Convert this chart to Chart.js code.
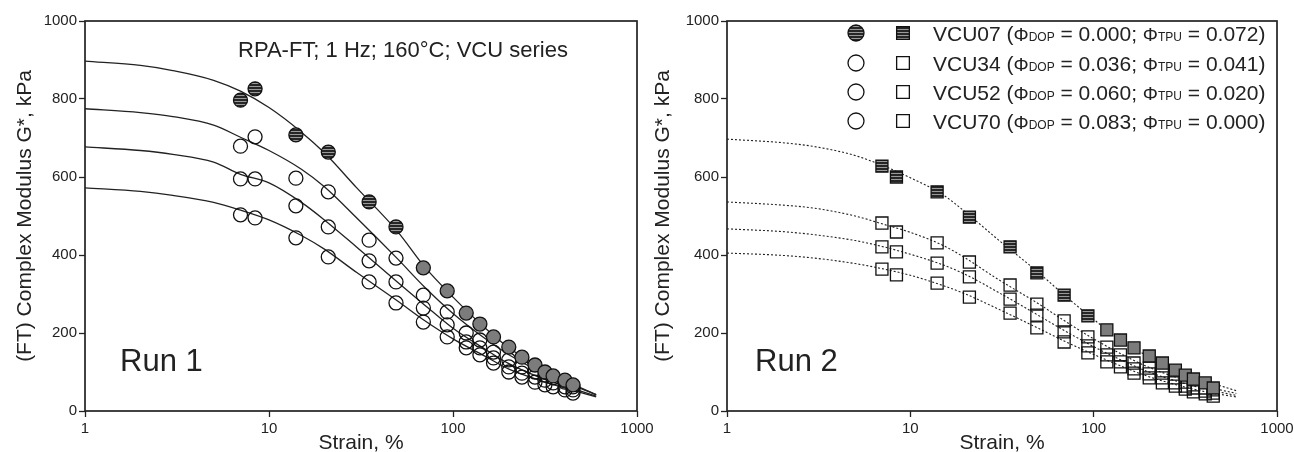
<!DOCTYPE html>
<html lang="en">

<head>
    <meta charset="UTF-8">
    <title>RPA-FT strain sweep, VCU series</title>
    <script src="https://cdn.jsdelivr.net/npm/chart.js"></script>
    <style>
        body { margin: 0; background: #fff; }
        .panel { position: absolute; top: 0; }
    </style>
</head>

<body>
    <div class="panel" style="left:0px"><canvas id="run1Chart" width="660" height="452"></canvas></div>
    <div class="panel" style="left:640px"><canvas id="run2Chart" width="654" height="452"></canvas></div>

    <script>
        // strain amplitudes of the sweep, %
        const strain = [7.0, 8.4, 14, 21, 35, 49, 69, 93, 118, 140, 166, 201, 237, 279, 316, 350, 406, 449];

        // Run 1, measured G*, kPa
        const run1VCU07 = [797, 826, 708, 664, 536, 472, 367, 308, 251, 223, 190, 164, 138, 118, 100, 90, 79, 67];
        const run1VCU34 = [679, 703, 597, 562, 438, 392, 297, 254, 200, 182, 151, 131, 113, 100, 92, 85, 74, 62];
        const run1VCU52 = [595, 595, 526, 472, 385, 331, 264, 221, 177, 162, 136, 113, 97, 87, 79, 72, 62, 54];
        const run1VCU70 = [503, 495, 444, 395, 331, 277, 228, 190, 162, 144, 123, 100, 87, 74, 67, 62, 54, 46];

        // Run 2, measured G*, kPa
        const run2VCU07 = [628, 600, 562, 497, 421, 354, 297, 244, 208, 182, 162, 141, 123, 105, 92, 82, 72, 59];
        const run2VCU34 = [482, 459, 431, 382, 323, 274, 231, 190, 164, 144, 123, 110, 97, 85, 74, 67, 59, 54];
        const run2VCU52 = [421, 408, 379, 344, 287, 246, 203, 167, 144, 126, 108, 95, 85, 72, 64, 59, 51, 46];
        const run2VCU70 = [364, 349, 328, 292, 251, 213, 177, 149, 126, 113, 97, 85, 72, 64, 56, 49, 44, 38];

        // fitted curves
        const fitStrain = [1, 2, 3, 5, 7, 10, 15, 20, 30, 50, 70, 100, 150, 200, 300, 400, 600];
        const run1FitVCU07 = [897, 886, 873, 848, 820, 778, 715, 662, 572, 460, 370, 292, 212, 163, 112, 80, 42];
        const run1FitVCU34 = [775, 765, 755, 733, 702, 668, 620, 575, 495, 390, 318, 250, 185, 145, 100, 75, 42];
        const run1FitVCU52 = [677, 668, 658, 638, 607, 585, 535, 490, 420, 330, 272, 212, 158, 122, 85, 65, 38];
        const run1FitVCU70 = [572, 563, 553, 535, 515, 490, 450, 415, 355, 282, 232, 185, 140, 108, 78, 60, 36];
        const run2FitVCU07 = [697, 688, 678, 655, 630, 598, 555, 510, 440, 355, 295, 235, 172, 140, 100, 78, 52];
        const run2FitVCU34 = [536, 528, 520, 500, 480, 458, 425, 392, 338, 275, 230, 185, 140, 112, 82, 64, 45];
        const run2FitVCU52 = [467, 460, 452, 437, 422, 402, 375, 350, 305, 245, 205, 165, 125, 100, 73, 57, 40];
        const run2FitVCU70 = [405, 399, 392, 378, 365, 348, 322, 300, 262, 212, 178, 145, 110, 88, 64, 50, 36];

        const xTicks = [1, 10, 100, 1000];
        const yTicks = [0, 200, 400, 600, 800, 1000];

        const sampleNames = ['VCU07', 'VCU34', 'VCU52', 'VCU70'];
        const phiDOP = ['0.000', '0.036', '0.060', '0.083'];
        const phiTPU = ['0.072', '0.041', '0.020', '0.000'];

        const FONT = "'Liberation Sans', Arial, sans-serif";
        const INK = '#222';

        // striped fill for the VCU07 markers
        const patCanvas = document.createElement('canvas');
        patCanvas.width = 1;
        patCanvas.height = 3;
        const pctx = patCanvas.getContext('2d');
        pctx.fillStyle = '#262626';
        pctx.fillRect(0, 0, 1, 2);
        pctx.fillStyle = '#9a9a9a';
        pctx.fillRect(0, 2, 1, 1);
        const hatch = pctx.createPattern(patCanvas, 'repeat');

        function pts(xs, ys) {
            return xs.map((x, i) => ({ x: x, y: ys[i] }));
        }

        function markerSet(ys, style, radius, filled, darkCount) {
            return {
                data: pts(strain, ys),
                showLine: false,
                pointStyle: style,
                pointRadius: radius,
                pointBorderWidth: 1.3,
                pointBorderColor: '#111',
                pointBackgroundColor: filled ? (c => c.dataIndex < darkCount ? hatch : '#7c7c7c') : 'rgba(0,0,0,0)'
            };
        }

        function fitSet(ys, dash) {
            return {
                data: pts(fitStrain, ys),
                showLine: true,
                pointRadius: 0,
                borderColor: INK,
                borderWidth: dash ? 1.1 : 1.3,
                borderDash: dash ? [2, 2] : [],
                cubicInterpolationMode: 'monotone'
            };
        }

        // draws the plot frame on all four sides
        const framePlugin = {
            id: 'frame',
            afterDraw(chart) {
                const { ctx, chartArea: a } = chart;
                ctx.save();
                ctx.strokeStyle = INK;
                ctx.lineWidth = 1.7;
                ctx.strokeRect(a.left, a.top, a.right - a.left, a.bottom - a.top);
                ctx.restore();
            }
        };

        function scalesFor(yWidth, titlePad) {
            return {
                x: {
                    type: 'logarithmic',
                    min: 1,
                    max: 1000,
                    afterBuildTicks: axis => { axis.ticks = xTicks.map(v => ({ value: v })); },
                    afterFit: axis => { axis.height = 41; axis.paddingLeft = 0; axis.paddingRight = 0; },
                    ticks: { callback: v => String(v), color: INK, font: { family: FONT, size: 15 }, padding: 3, maxRotation: 0, autoSkip: false },
                    grid: { drawOnChartArea: false, tickLength: 6, tickColor: INK, tickWidth: 1.3 },
                    border: { display: false },
                    title: { display: true, text: 'Strain, %', color: INK, font: { family: FONT, size: 21, lineHeight: 1 }, padding: { top: 0, bottom: -2 } }
                },
                y: {
                    min: 0,
                    max: 1000,
                    afterBuildTicks: axis => { axis.ticks = yTicks.map(v => ({ value: v })); },
                    afterFit: axis => { axis.width = yWidth; axis.paddingTop = 0; axis.paddingBottom = 0; },
                    ticks: { callback: v => String(v), color: INK, font: { family: FONT, size: 15 }, padding: 2 },
                    grid: { drawOnChartArea: false, tickLength: 6, tickColor: INK, tickWidth: 1.3 },
                    border: { display: false },
                    title: { display: true, text: '(FT) Complex Modulus G*, kPa', color: INK, font: { family: FONT, size: 21, lineHeight: 1.2 }, padding: { top: titlePad, bottom: 0 } }
                }
            };
        }

        const baseOptions = {
            responsive: false,
            animation: false,
            events: [],
            plugins: { legend: { display: false }, tooltip: { enabled: false } }
        };

        // Run 1
        const run1Notes = {
            id: 'run1Notes',
            afterDraw(chart) {
                const { ctx, chartArea: a } = chart;
                ctx.save();
                ctx.fillStyle = INK;
                ctx.textBaseline = 'alphabetic';
                ctx.font = '22px ' + FONT;
                ctx.fillText('RPA-FT; 1 Hz; 160°C; VCU series', a.left + 153, a.top + 36);
                ctx.font = '31px ' + FONT;
                ctx.fillText('Run 1', a.left + 35, a.bottom - 40);
                ctx.restore();
            }
        };

        new Chart(document.getElementById('run1Chart').getContext('2d'), {
            type: 'scatter',
            data: {
                datasets: [
                    markerSet(run1VCU07, 'circle', 7, true, 6),
                    markerSet(run1VCU34, 'circle', 7, false),
                    markerSet(run1VCU52, 'circle', 7, false),
                    markerSet(run1VCU70, 'circle', 7, false),
                    fitSet(run1FitVCU07, false),
                    fitSet(run1FitVCU34, false),
                    fitSet(run1FitVCU52, false),
                    fitSet(run1FitVCU70, false)
                ]
            },
            options: Object.assign({}, baseOptions, {
                layout: { padding: { left: 0, top: 21, right: 23, bottom: 0 } },
                scales: scalesFor(85, 13)
            }),
            plugins: [framePlugin, run1Notes]
        });

        // Run 2, with the shared legend
        const run2Notes = {
            id: 'run2Notes',
            afterDraw(chart) {
                const { ctx, chartArea: a } = chart;
                ctx.save();
                ctx.fillStyle = INK;
                ctx.font = '31px ' + FONT;
                ctx.fillText('Run 2', a.left + 28, a.bottom - 40);

                const rowY = [12, 42, 71, 100];
                sampleNames.forEach((name, i) => {
                    const cy = a.top + rowY[i];
                    const filled = i === 0;
                    ctx.strokeStyle = '#111';
                    ctx.lineWidth = 1.3;
                    ctx.fillStyle = filled ? hatch : 'rgba(0,0,0,0)';
                    Chart.helpers.drawPoint(ctx, { pointStyle: 'circle', radius: 8, borderWidth: 1.3, rotation: 0 }, a.left + 129, cy);
                    ctx.fillStyle = filled ? hatch : 'rgba(0,0,0,0)';
                    Chart.helpers.drawPoint(ctx, { pointStyle: 'rect', radius: 9, borderWidth: 1.3, rotation: 0 }, a.left + 176, cy);

                    // label with small-cap subscripts
                    const parts = [
                        [name + ' (', 21], ['\u03A6', 19], ['DOP', 12], [' = ' + phiDOP[i] + '; ', 21],
                        ['\u03A6', 19], ['TPU', 12], [' = ' + phiTPU[i] + ')', 21]
                    ];
                    let x = a.left + 206;
                    ctx.fillStyle = INK;
                    parts.forEach(([txt, size]) => {
                        ctx.font = size + 'px ' + FONT;
                        ctx.fillText(txt, x, cy + 7.5);
                        x += ctx.measureText(txt).width;
                    });
                });
                ctx.restore();
            }
        };

        new Chart(document.getElementById('run2Chart').getContext('2d'), {
            type: 'scatter',
            data: {
                datasets: [
                    markerSet(run2VCU07, 'rect', 8.5, true, 8),
                    markerSet(run2VCU34, 'rect', 8.5, false),
                    markerSet(run2VCU52, 'rect', 8.5, false),
                    markerSet(run2VCU70, 'rect', 8.5, false),
                    fitSet(run2FitVCU07, true),
                    fitSet(run2FitVCU34, true),
                    fitSet(run2FitVCU52, true),
                    fitSet(run2FitVCU70, true)
                ]
            },
            options: Object.assign({}, baseOptions, {
                layout: { padding: { left: 0, top: 21, right: 17, bottom: 0 } },
                scales: scalesFor(87, 11)
            }),
            plugins: [framePlugin, run2Notes]
        });
    </script>
</body>

</html>
